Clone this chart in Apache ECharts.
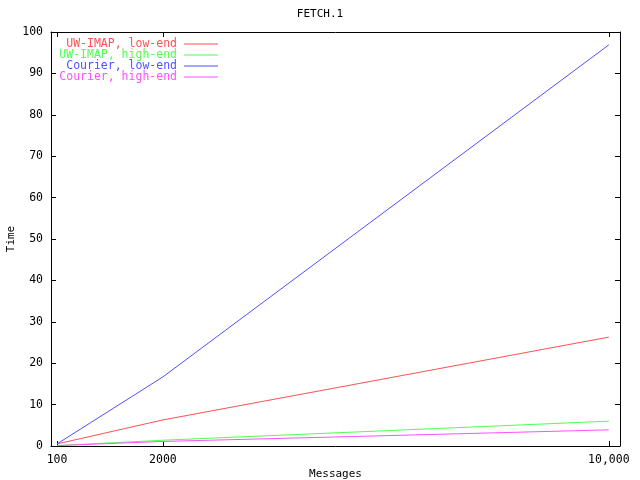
<!DOCTYPE html>
<html><head><meta charset="utf-8">
<script src="https://cdn.jsdelivr.net/npm/echarts@6/dist/echarts.min.js"></script>
<style>html,body{margin:0;padding:0;background:#fff}#c{width:640px;height:480px}</style>
</head><body><div id="c"></div>
<script>
var messages = [100, 2000, 10000];
var xTickValues = [100, 2000, 10000];
var xTickLabels = ['100', '2000', '10,000'];
var seriesNames = ['UW-IMAP, low-end', 'UW-IMAP, high-end', 'Courier, low-end', 'Courier, high-end'];
var uwLow = [0.5, 6.3, 26.3];
var uwHigh = [0.1, 1.4, 6.0];
var courierLow = [0.5, 16.7, 96.9];
var courierHigh = [0.1, 1.1, 3.9];
var colors = ['#ff5050', '#50ff50', '#5050ff', '#ff50ff'];

var values = [uwLow, uwHigh, courierLow, courierHigh];
var FONT = 'DejaVu Sans Mono';
var FS = 11;
function pairs(v){ return messages.map(function(m,i){ return [m, v[i]]; }); }
var labelMap = {};
xTickValues.forEach(function(v,i){ labelMap[v] = xTickLabels[i]; });

var chart = echarts.init(document.getElementById('c'), null, {renderer:'canvas'});
var legends = seriesNames.map(function(n, i){
  return {
    data: [n], right: 422, top: 38 + i*11, orient: 'vertical', align: 'right',
    icon: 'rect', itemWidth: 34, itemHeight: 1, itemGap: 0, padding: 0,
    selectedMode: false,
    textStyle: {color: colors[i], fontFamily: FONT, fontSize: 11.5, padding: [0, 2, 0, 0]}
  };
});
var axisCommonX = {
  type: 'value', min: -8, max: 10200,
  axisLine: {show: true, onZero: false, lineStyle: {color: '#000', width: 1}},
  splitLine: {show: false}
};
chart.setOption({
  animation: false,
  backgroundColor: '#fff',
  title: {text: 'FETCH.1', left: 'center', top: 4, textStyle: {fontFamily: FONT, fontSize: FS, fontWeight: 'normal', color: '#000'}},
  legend: legends,
  grid: {left: 51, right: 20, top: 32, bottom: 34, containLabel: false, outerBoundsMode: 'none', show: false},
  xAxis: [
    Object.assign({}, axisCommonX, {
      position: 'bottom',
      name: 'Messages', nameLocation: 'middle', nameGap: 23, nameMoveOverlap: false,
      nameTextStyle: {fontFamily: FONT, fontSize: FS, color: '#000'},
      axisTick: {show: true, inside: true, length: 5, customValues: xTickValues, lineStyle: {color: '#000'}},
      axisLabel: {show: true, customValues: xTickValues, margin: 8, fontFamily: FONT, fontSize: 11.5, color: '#000',
        formatter: function(v){ return labelMap[v] || ''; }}
    }),
    Object.assign({}, axisCommonX, {
      position: 'top',
      axisTick: {show: true, inside: true, length: 5, customValues: xTickValues, lineStyle: {color: '#000'}},
      axisLabel: {show: false}
    })
  ],
  yAxis: [
    {type: 'value', min: 0, max: 100, interval: 10, position: 'left',
     name: 'Time', nameLocation: 'middle', nameGap: 34, nameRotate: 90, nameMoveOverlap: false,
     nameTextStyle: {fontFamily: FONT, fontSize: FS, color: '#000'},
     axisLine: {show: true, onZero: false, lineStyle: {color: '#000'}},
     axisTick: {show: true, inside: true, length: 5, lineStyle: {color: '#000'}},
     axisLabel: {margin: 8, fontFamily: FONT, fontSize: 11.5, color: '#000'},
     splitLine: {show: false}},
    {type: 'value', min: 0, max: 100, interval: 10, position: 'right',
     axisLine: {show: true, onZero: false, lineStyle: {color: '#000'}},
     axisTick: {show: true, inside: true, length: 5, lineStyle: {color: '#000'}},
     axisLabel: {show: false},
     splitLine: {show: false}}
  ],
  series: seriesNames.map(function(n, i){
    return {name: n, type: 'line', data: pairs(values[i]), showSymbol: false, symbol: 'none',
      xAxisIndex: i < 2 ? 0 : 1, yAxisIndex: i < 2 ? 0 : 1,
      lineStyle: {color: colors[i], width: 1}, itemStyle: {color: colors[i]}};
  })
});
</script></body></html>
